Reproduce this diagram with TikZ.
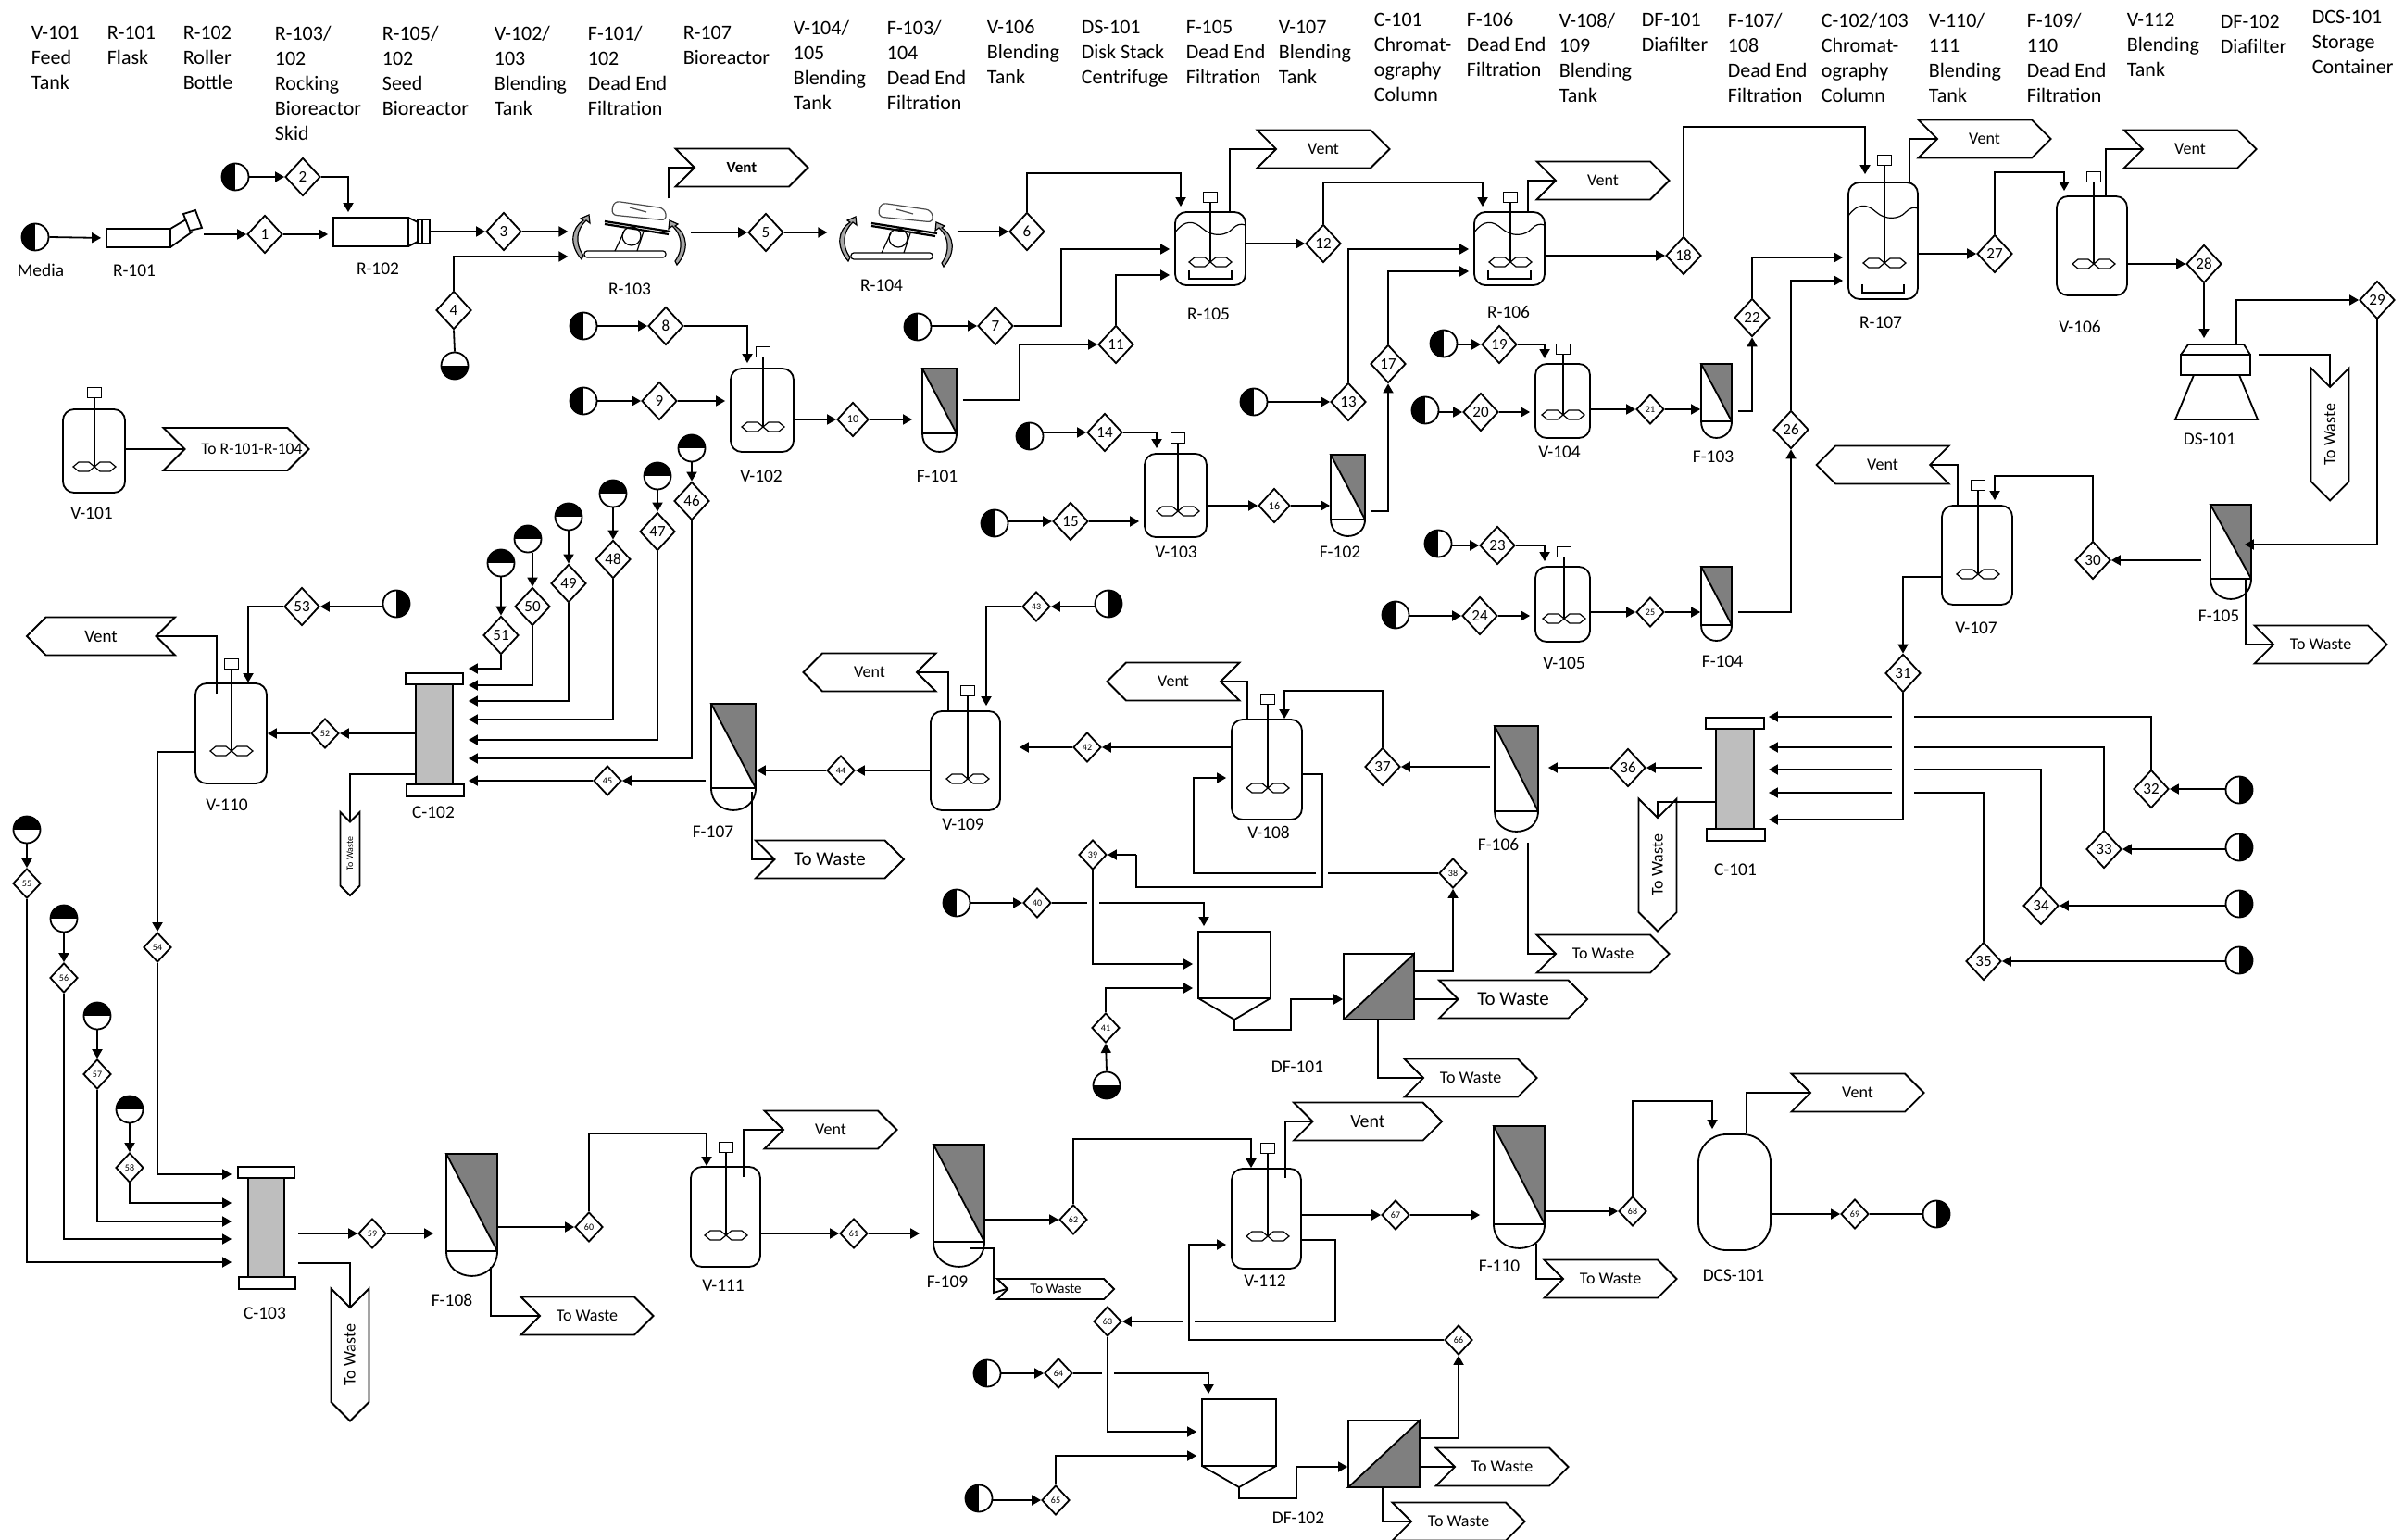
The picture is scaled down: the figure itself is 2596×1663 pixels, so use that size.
\documentclass[tikz,border=0pt]{standalone}
\usepackage{fontspec}
\setmainfont{Carlito}
\usetikzlibrary{arrows.meta, shapes.geometric, shapes.symbols, fit}
\definecolor{cgrey}{HTML}{7F7F7F}
\definecolor{cresin}{HTML}{BEBEBE}
\tikzset{
  flow/.style={-{Triangle[length=5pt,width=5.5pt]}, draw=black},
  flowg/.style={flow, shorten >=2.5pt},
  pipe/.style={draw=black},
  vessel/.style={draw, rectangle, rounded corners=6pt, inner sep=0pt},
  plainbox/.style={draw, rectangle, inner sep=0pt},
  ghost/.style={rectangle, inner sep=0pt},
  motor/.style={draw, rectangle, inner sep=0pt, minimum width=7.5pt, minimum height=5.5pt, line width=.6pt},
  stream/.style={draw, diamond, inner sep=0pt, minimum width=19pt, minimum height=20.5pt, font=\fontsize{8.5}{9}\selectfont},
  midstream/.style={stream, minimum width=17pt, minimum height=18.5pt, font=\fontsize{6}{6}\selectfont},
  smallstream/.style={stream, minimum width=15pt, minimum height=16pt, font=\fontsize{5}{5}\selectfont},
  srcL/.style={circle, draw, minimum size=14.5pt, inner sep=0pt, path picture={\fill (path picture bounding box.north west) rectangle (path picture bounding box.south);}},
  srcR/.style={circle, draw, minimum size=14.5pt, inner sep=0pt, path picture={\fill (path picture bounding box.north) rectangle (path picture bounding box.south east);}},
  srcT/.style={circle, draw, minimum size=14.5pt, inner sep=0pt, path picture={\fill (path picture bounding box.north west) rectangle (path picture bounding box.east);}},
  srcB/.style={circle, draw, minimum size=14.5pt, inner sep=0pt, path picture={\fill (path picture bounding box.west) rectangle (path picture bounding box.south east);}},
  tag/.style={signal, draw, signal to=east, signal from=west, signal pointer angle=90, inner sep=0pt, minimum width=71.5pt, minimum height=20.5pt, font=\fontsize{9}{10}\selectfont},
  ltag/.style={tag, signal to=west, signal from=east},
  vtag/.style={ltag, rotate=90},
  eqlabel/.style={inner sep=0pt, font=\fontsize{9.7}{11}\selectfont},
  heading/.style={anchor=north west, align=left, inner sep=0pt, font=\fontsize{11}{13.5}\selectfont},
}
% name, left, top, right, bottom, shaft x, motor y, impeller y
\newcommand{\blendtank}[8]{%
  \node[vessel, fit={(#2,#3) (#4,#5)}] (#1) {};
  \node[motor] (#1m) at (#6,#7) {};
  \draw[line width=.6pt] (#1m.south) -- (#6,#8);
  \foreach \d in {-1,1}
    \draw[line width=.6pt] (#6,#8) -- ++(\d*6,-5) -- ++(\d*11,0) -- ++(\d*6,5) -- ++(\d*-6,5) -- ++(\d*-11,0) -- cycle;
}
% the same, with the liquid level and the sparger
\newcommand{\bioreactor}[9]{%
  \blendtank{#1}{#2}{#3}{#4}{#5}{#6}{#7}{#8}
  \draw[line width=.6pt] (#2,#9+4) .. controls (#2+10,#9-10) and (#2+20,#9-9) .. (#2+30,#9) .. controls (#2+40,#9+9) and (#2+55,#9+8) .. (#2+62,#9) .. controls (#2+66,#9-4) and (#2+70,#9-6) .. (#4,#9-4);
  \draw[line width=.6pt] (#2+15,#5-16) -- (#2+15,#5-7) -- (#4-15,#5-7) -- (#4-15,#5-16);
}
% name, left, top, right, bottom, dome bottom
\newcommand{\deadend}[6]{%
  \node[plainbox, fit={(#2,#3) (#4,#5)}] (#1) {};
  \draw[fill=cgrey] (#2,#3) -- (#4,#3) -- (#4,#5) -- cycle;
  \draw (#2,#5) .. controls (#2,#5+1.33*#6-1.33*#5) and (#4,#5+1.33*#6-1.33*#5) .. (#4,#5);
}
% name, left, top, right, bottom
\newcommand{\chromcolumn}[5]{%
  \node[plainbox, fill=cresin, fit={(#2,#3) (#4,#5)}] (#1) {};
  \node[plainbox, fill=white, fit={(#2-11,#3-12) (#4+11,#3)}] (#1top) {};
  \node[plainbox, fill=white, fit={(#2-10,#5) (#4+12,#5+13)}] (#1bot) {};
}
% name, left, top, right, bottom, tip
\newcommand{\hopper}[6]{%
  \node[plainbox, fit={(#2,#3) (#4,#5)}] (#1) {};
  \draw (#2,#5) -- (#2/2+#4/2,#6) coordinate (#1tip) -- (#4,#5);
}
% name, left, top, right, bottom
\newcommand{\diafilter}[5]{%
  \node[plainbox, fit={(#2,#3) (#4,#5)}] (#1) {};
  \draw[fill=cgrey] (#2,#5) -- (#4,#3) -- (#4,#5) -- cycle;
}
% name, shift
\newcommand{\rocker}[2]{%
  \begin{scope}[shift={(#2)}, line width=.6pt]
    \node[ghost, fit={(614,215) (745,285)}] (#1) {};
    \draw[rounded corners=1.5pt] (631,271) rectangle (719,278);
    \draw (664,271) -- (674,250) (688,271) -- (695,250);
    \draw (682,255) circle[radius=5pt];
    \draw[line width=1.1pt] (653,239) -- (724,250) (653,242) -- (722,253);
    \draw[rounded corners=3pt, draw=black!70] (660,232) -- (663,217) -- (718,225) -- (720,238) -- cycle;
    \draw[draw=black!70] (680,224) -- (698,229);
    \draw[fill=black!35] (630,276) .. controls (620,262) and (623,247) .. (633,238) -- (637,241) -- (636,232) -- (627,236) -- (630,238) .. controls (617,246) and (614,264) .. (628,280) -- cycle;
    \draw[fill=black!35] (729,282) .. controls (739,268) and (736,253) .. (726,244) -- (722,247) -- (723,238) -- (732,242) -- (729,244) .. controls (742,252) and (745,270) .. (731,286) -- cycle;
  \end{scope}
}

\begin{document}
\begin{tikzpicture}[x=.5pt, y=-.5pt, line width=.9pt]
  \useasboundingbox (0,0) rectangle (2596,1663);

  % header
  \foreach \x/\y/\t [count=\i] in {33/36/{V-101\\Feed\\Tank}, 115/36/{R-101\\Flask}, 197/36/{R-102\\Roller\\Bottle},
      296/36/{R-103/\\102\\Rocking\\Bioreactor\\Skid}, 412/36/{R-105/\\102\\Seed\\Bioreactor}, 533/36/{V-102/\\103\\Blending\\Tank},
      634/36/{F-101/\\102\\Dead End\\Filtration}, 737/36/{R-107\\Bioreactor}, 856/30/{V-104/\\105\\Blending\\Tank},
      957/30/{F-103/\\104\\Dead End\\Filtration}, 1065/30/{V-106\\Blending\\Tank}, 1167/30/{DS-101\\Disk Stack\\Centrifuge},
      1280/30/{F-105\\Dead End\\Filtration}, 1380/30/{V-107\\Blending\\Tank}, 1483/22/{C-101\\Chromat-\\ography\\Column},
      1583/22/{F-106\\Dead End\\Filtration}, 1683/22/{V-108/\\109\\Blending\\Tank}, 1772/22/{DF-101\\Diafilter},
      1865/22/{F-107/\\108\\Dead End\\Filtration}, 1966/22/{C-102/103\\Chromat-\\ography\\Column}, 2082/22/{V-110/\\111\\Blending\\Tank},
      2188/22/{F-109/\\110\\Dead End\\Filtration}, 2296/22/{V-112\\Blending\\Tank}, 2397/24/{DF-102\\Diafilter},
      2496/19/{DCS-101\\Storage\\Container}}
    \node[heading] (head\i) at (\x,\y-9) {\t};

  % equipment
  \node[plainbox, fit={(115,247) (184,267)}] (r101) {};
  \draw (184,247) -- (201,237) (184,267) -- (208,250);
  \draw (198,231) -- (211,227) -- (218,246) -- (205,249) -- cycle;
  \coordinate (r101out) at (220,253);
  \node[plainbox, fit={(360,235) (441,266)}] (r102) {};
  \node[plainbox, fit={(451,237) (464,263)}] (r102cap) {};
  \draw (441,235) -- (451,240) (441,266) -- (451,261) (456,237) -- (456,263);
  \rocker{r103}{0,0}
  \rocker{r104}{288,2}
  \blendtank{v101}{68}{442}{135}{532}{102}{424}{504}
  \blendtank{v102}{789}{398}{857}{488}{824}{380}{461}
  \blendtank{v103}{1236}{490}{1303}{580}{1272}{473}{552}
  \blendtank{v104}{1658}{393}{1717}{473}{1688}{377}{448}
  \blendtank{v105}{1658}{612}{1717}{693}{1689}{596}{668}
  \blendtank{v106}{2221}{212}{2297}{319}{2261}{191}{285}
  \blendtank{v107}{2097}{546}{2173}{653}{2136}{524}{620}
  \blendtank{v108}{1330}{777}{1406}{885}{1369}{755}{851}
  \blendtank{v109}{1005}{768}{1080}{875}{1045}{746}{841}
  \blendtank{v110}{211}{738}{288}{846}{250}{717}{811}
  \blendtank{v111}{746}{1260}{821}{1368}{784}{1239}{1334}
  \blendtank{v112}{1330}{1262}{1405}{1370}{1369}{1240}{1335}
  \bioreactor{r105}{1269}{229}{1345}{308}{1307}{213}{283}{247}
  \bioreactor{r106}{1592}{229}{1668}{308}{1631}{213}{283}{247}
  \bioreactor{r107}{1996}{197}{2071}{323}{2035}{173}{284}{229}
  \deadend{f101}{996}{398}{1033}{468}{488}
  \deadend{f102}{1437}{491}{1474}{561}{579}
  \deadend{f103}{1837}{393}{1870}{455}{473}
  \deadend{f104}{1837}{612}{1870}{675}{692}
  \deadend{f105}{2387}{545}{2431}{625}{647}
  \deadend{f106}{1614}{784}{1661}{876}{898}
  \deadend{f107}{768}{760}{816}{851}{875}
  \deadend{f108}{482}{1246}{537}{1351}{1378}
  \deadend{f109}{1008}{1236}{1063}{1341}{1368}
  \deadend{f110}{1613}{1216}{1668}{1322}{1348}
  \chromcolumn{c101}{1853}{787}{1894}{895}
  \chromcolumn{c102}{449}{739}{489}{847}
  \chromcolumn{c103}{268}{1272}{307}{1379}
  \hopper{hop101}{1294}{1006}{1372}{1078}{1101}
  \hopper{hop102}{1298}{1511}{1378}{1583}{1606}
  \diafilter{df101}{1451}{1030}{1527}{1101}
  \diafilter{df102}{1456}{1534}{1533}{1606}
  \node[ghost, fit={(2349,372) (2438,453)}] (ds101) {};
  \draw (2355,383) -- (2363,372) -- (2423,372) -- (2430,383);
  \draw (2355,383) rectangle (2430,405);
  \draw (2369,405) -- (2349,453) -- (2438,453) -- (2418,405);
  \node[vessel, rounded corners=15pt, fit={(1834,1225) (1912,1350)}] (dcs101) {};

  % streams
  \foreach \n/\x/\y in {1/286/253, 2/327/191, 3/544/250, 4/490/335, 5/827/251, 6/1109/250, 7/1075/352, 8/719/352, 9/712/433,
      11/1205/372, 12/1429/263, 13/1456/434, 14/1193/467, 15/1156/563, 17/1499/393, 18/1818/276, 19/1619/372, 20/1599/445,
      22/1892/343, 23/1617/589, 24/1598/665, 26/1934/464, 27/2154/274, 28/2380/285, 29/2567/324, 30/2260/605, 31/2055/727,
      32/2323/852, 33/2272/917, 34/2204/978, 35/2142/1038, 36/1758/829, 37/1493/828, 46/747/541, 47/710/574, 48/662/604,
      49/614/630, 50/575/655, 51/541/686, 53/326/655}
    \node[stream] (s\n) at (\x,\y) {\n};
  \foreach \n/\x/\y in {10/921/453, 16/1376/546}
    \node[midstream] (s\n) at (\x,\y) {\n};
  \foreach \n/\x/\y in {21/1782/442, 25/1782/661, 38/1569/943, 39/1180/923, 40/1120/975, 41/1194/1110, 42/1174/807, 43/1119/655,
      44/908/832, 45/656/843, 52/351/792, 54/170/1023, 55/29/954, 56/69/1056, 57/105/1160, 58/140/1261, 59/402/1332, 60/636/1325,
      61/922/1332, 62/1159/1317, 63/1196/1427, 64/1143/1483, 65/1140/1620, 66/1575/1447, 67/1507/1312, 68/1763/1308, 69/2003/1311}
    \node[smallstream] (s\n) at (\x,\y) {\n};

  % feeds
  \node[srcL] (fM) at (38,256) {};
  \foreach \n/\x/\y in {2/254/191, 7/991/353, 8/630/352, 9/630/433, 13/1354/434, 14/1112/471, 15/1074/565, 19/1559/371,
      20/1539/443, 23/1553/587, 24/1507/664, 40/1033/975, 64/1066/1483, 65/1057/1618} {
    \node[srcL] (f\n) at (\x,\y) {};
    \draw[flow] (f\n.east |- s\n) -- (s\n.west);
  }
  \foreach \n/\x/\y in {32/2418/853, 33/2418/915, 34/2418/976, 35/2418/1037, 43/1197/652, 53/428/652} {
    \node[srcR] (f\n) at (\x,\y) {};
    \draw[flow] (f\n.west |- s\n) -- (s\n.east);
  }
  \foreach \n/\x/\y in {46/747/484, 47/710/514, 48/662/533, 49/614/558, 50/570/582, 51/541/608, 55/29/896, 56/69/992, 57/105/1097, 58/140/1198} {
    \node[srcT] (f\n) at (\x,\y) {};
    \draw[flow] (s\n |- f\n.south) -- (s\n.north);
  }
  \node[srcB] (f4) at (491,395) {};
  \node[srcB] (f41) at (1195,1172) {};
  \node[srcR] (f69) at (2091,1311) {};
  \draw[pipe] (f4.north) -- (s4.south);
  \draw[flow] (f41.north) -- (s41.south);

  % vents and waste
  \node[tag, font=\fontsize{8.5}{10}\selectfont\bfseries] (ventR103) at (801,181) {Vent};
  \node[tag] (ventR105) at (1429,161) {Vent};
  \node[tag] (ventR106) at (1731,195) {Vent};
  \node[tag] (ventR107) at (2143,150) {Vent};
  \node[tag] (ventV106) at (2365,161) {Vent};
  \node[ltag] (ventV107) at (2033,502) {Vent};
  \node[ltag] (ventV108) at (1267,736) {Vent};
  \node[ltag] (ventV109) at (939,726) {Vent};
  \node[ltag, minimum width=80pt, font=\fontsize{9.5}{10}\selectfont] (ventV110) at (109,687) {Vent};
  \node[tag] (ventV111) at (897,1220) {Vent};
  \node[tag, minimum width=80pt, font=\fontsize{10}{10}\selectfont] (ventV112) at (1477,1211) {Vent};
  \node[tag] (ventDCS) at (2006,1180) {Vent};
  \node[tag, minimum width=78.5pt, minimum height=23pt, font=\fontsize{8.8}{10}\selectfont] (toSeed) at (255,485) {\makebox[40pt]{\hspace{17pt}To R-101-R-104}};
  \node[vtag] (wasteDS) at (2516,469) {To Waste};
  \node[vtag] (wasteC101) at (1790,934) {To Waste};
  \node[vtag, minimum width=45pt, minimum height=10.5pt, font=\fontsize{5}{5}\selectfont] (wasteC102) at (378,922) {To Waste};
  \node[vtag] (wasteC103) at (378,1463) {To Waste};
  \node[tag] (wasteF105) at (2506,696) {To Waste};
  \node[tag] (wasteF106) at (1731,1030) {To Waste};
  \node[tag, minimum width=80pt, font=\fontsize{10.5}{10}\selectfont] (wasteF107) at (896,928) {To Waste};
  \node[tag] (wasteF108) at (634,1421) {To Waste};
  \node[tag, minimum width=63pt, minimum height=11pt, font=\fontsize{7.5}{8}\selectfont] (wasteF109) at (1140,1392) {To Waste};
  \node[tag] (wasteF110) at (1739,1381) {To Waste};
  \node[tag, minimum width=80pt, font=\fontsize{10.5}{10}\selectfont] (wasteDFa) at (1634,1079) {To Waste};
  \node[tag] (wasteDFb) at (1588,1164) {To Waste};
  \node[tag] (wasteDFc) at (1622,1584) {To Waste};
  \node[tag] (wasteDFd) at (1575,1643) {To Waste};

  % upper train
  \draw[flowg] (fM.east) -- (r101.west);
  \draw[flow] (r101out) -- (s1.west);
  \draw[flowg] (s1.east) -- (s1 -| r102.west);
  \draw[flowg] (s2.east) -| (r102.north -| 376,0);
  \draw[flow] (r102cap.east |- s3) -- (s3.west);
  \draw[flow] (s3.east) -- (s3 -| r103.west);
  \draw[flow] (s4.north) |- (r103.west |- 0,277);
  \draw[pipe] (r103.north -| 722,0) |- (ventR103.west);
  \draw[flow] (r103.east |- s5) -- (s5.west);
  \draw[flow, shorten >=4pt] (s5.east) -- (s5 -| r104.west);
  \draw[flow] (r104.east |- s6) -- (s6.west);
  \draw[flowg] (s6.north) |- (1275,187) -- (r105.north -| 1275,0);
  \draw[pipe] (r105.north -| 1328,0) |- (ventR105.west);
  \draw[flow] (r105.east |- s12) -- (s12.west);
  \draw[flowg] (s12.north) |- (1601,197) -- (r106.north -| 1601,0);
  \draw[pipe] (r106.north -| 1650,0) |- (ventR106.west);
  \draw[flowg] (s7.east) -| (1146,269) -- (r105.west |- 0,269);
  \draw[flowg] (s8.east) -| (v102.north -| 807,0);
  \draw[flowg] (s9.east) -- (s9 -| v102.west);
  \draw[flow] (v102.east |- s10) -- (s10.west);
  \draw[flow, shorten >=5pt] (s10.east) -- (s10 -| f101.west);
  \draw[flow] ([xshift=3pt]f101.east |- 0,432) -| (1101,372) -- (s11.west);
  \draw[flowg] (s11.north) |- (r105.west |- 0,297);
  \draw[pipe] (v101.east |- toSeed) -- (toSeed.west);
  \draw[flowg] (s13.north) |- (r106.west |- 0,269);
  \draw[flowg] (s17.north) |- (r106.west |- 0,293);
  \draw[flowg] (s14.east) -| (v103.north -| 1249,0);
  \draw[flowg] (s15.east) -- (s15 -| v103.west);
  \draw[flow] (v103.east |- s16) -- (s16.west);
  \draw[flow] (s16.east) -- (s16 -| f102.west);
  \draw[flow] ([xshift=3pt]f102.east |- 0,552) -| (s17.south);
  \draw[flow] (r106.east |- s18) -- (s18.west);
  \draw[flow, shorten >=4pt] (s18.north) |- (2014,137) -- (r107.north -| 2014,0);
  \draw[flowg] (s19.east) -| (v104.north -| 1668,0);
  \draw[flowg] (s20.east) -- (s20 -| v104.west);
  \draw[flow] (v104.east |- s21) -- (s21.west);
  \draw[flow] (s21.east) -- (s21 -| f103.west);
  \draw[flow] ([xshift=3pt]f103.east |- 0,444) -| (s22.south);
  \draw[flowg] (s22.north) |- (r107.west |- 0,278);
  \draw[flowg] (s26.north) |- (r107.west |- 0,303);
  \draw[flowg] (s23.east) -| (v105.north -| 1668,0);
  \draw[flowg] (s24.east) -- (s24 -| v105.west);
  \draw[flow] (v105.east |- s25) -- (s25.west);
  \draw[flow] (s25.east) -- (s25 -| f104.west);
  \draw[flow] ([xshift=3pt]f104.east |- s25) -| (s26.south);
  \draw[flow] (r107.east |- s27) -- (s27.west);
  \draw[pipe] (r107.north -| 2062,0) |- (ventR107.west);
  \draw[flowg] (s27.north) |- (2229,186) -- (v106.north -| 2229,0);
  \draw[pipe] (v106.north -| 2274,0) |- (ventV106.west);
  \draw[flow] (v106.east |- s28) -- (s28.west);
  \draw[flow, shorten >=3pt] (s28.south) -- (s28 |- ds101.north);
  \draw[flow] (ds101.north -| 2415,0) |- (s29.west);
  \draw[pipe] (ds101.east |- 0,383) -| (wasteDS.east);
  \draw[flow, shorten >=-4pt] (s29.south) |- (f105.east |- 0,588);
  \draw[flow] ([xshift=-4.5pt]f105.west |- s30) -- (s30.east);
  \draw[flowg] (s30.north) |- (2154,514) -- (v107.north -| 2154,0);
  \draw[pipe] (v107.north -| 2114,0) |- (ventV107.east);
  \draw[pipe] (f105.south -| 2425,0) |- (wasteF105.west);
  \draw[flow] (v107.west |- 0,623) -| (s31.north);

  % first capture train
  \draw[flow] (s31.south) |- ([xshift=7.5pt]c101.east |- 0,885);
  \foreach \n/\y in {32/774, 33/807, 34/831, 35/856} {
    \draw[pipe] (s\n.north) |- ([xshift=6pt]s31.south |- 0,\y);
    \draw[flow] ([xshift=-6pt]s31.south |- 0,\y) -- ([xshift=7.5pt]c101.east |- 0,\y);
  }
  \draw[flow] ([xshift=-7pt]c101.west |- s36) -- (s36.east);
  \draw[flow, shorten >=5pt] (s36.west) -- (s36 -| f106.east);
  \draw[pipe] (c101.west |- 0,866) -| (wasteC101.east);
  \draw[pipe] ([yshift=-16.5pt]f106.south -| 1650,0) |- (wasteF106.west);
  \draw[flow] ([xshift=-2pt]f106.west |- s37) -- (s37.east);
  \draw[flow] (s37.north) |- (1387,746) -- (v108.north -| 1387,0);
  \draw[pipe] (v108.north -| 1347,0) |- (ventV108.east);
  \draw[flow] (v108.west |- s42) -- (s42.east);
  \draw[flow, shorten >=10pt] (s42.west) -- (s42 -| v109.east);
  \draw[pipe] (v108.east |- 0,836) -| (1428,958) -| (1227,923);
  \draw[flow] (1227,923) -- (s39.east);
  \draw[pipe] (s38.west) -- (1434,943);
  \draw[flowg] (1421,943) -| (1289,840) -- (v108.west |- 0,840);
  \draw[flow] (df101.east |- 0,1049) -| (s38.south);
  \draw[flowg] (s39.south) |- (hop101.west |- 0,1041);
  \draw[pipe] (s40.east) -- (1174,975);
  \draw[flowg] (1187,975) -| (hop101.north -| 1300,0);
  \draw[flowg] (s41.north) |- (hop101.west |- 0,1067);
  \draw[flow] (hop101tip) |- (1394,1112) |- (df101.west |- 0,1079);
  \draw[pipe] (df101.east |- wasteDFa) -- (wasteDFa.west);
  \draw[pipe] (df101.south -| 1488,0) |- (wasteDFb.west);

  % second capture train
  \draw[flow] (v109.west |- s44) -- (s44.east);
  \draw[flow] (s44.west) -- (s44 -| f107.east);
  \draw[pipe] (v109.north -| 1024,0) |- (ventV109.east);
  \draw[flowg] (s43.west) -| (v109.north -| 1065,0);
  \draw[flow] ([xshift=-2.5pt]f107.west |- s45) -- (s45.east);
  \draw[flow] (s45.west) -- ([xshift=8pt]c102.east |- s45);
  \draw[pipe] ([yshift=-1.5pt]f107.south -| 812,0) |- (wasteF107.west);
  \foreach \n/\y in {46/819, 47/799, 48/777, 49/757, 50/740, 51/722}
    \draw[flow] (s\n.south) |- ([xshift=8pt]c102.east |- 0,\y);
  \draw[flow] (c102.west |- s52) -- (s52.east);
  \draw[flow] (s52.west) -- (s52 -| v110.east);
  \draw[pipe] (c102.west |- 0,836) -| (wasteC102.east);
  \draw[flow] (s53.west) -| (v110.north -| 268,0);
  \draw[pipe] ([yshift=-6pt]v110.north -| 234,0) |- (ventV110.east);
  \draw[flow] (v110.west |- 0,812) -| (s54.north);
  \foreach \n/\y in {54/1268, 55/1363, 56/1338, 57/1319, 58/1299}
    \draw[flow] (s\n.south) |- ([xshift=-8.5pt]c103.west |- 0,\y);
  \draw[flow] ([xshift=7pt]c103.east |- s59) -- (s59.west);
  \draw[flow, shorten >=6.5pt] (s59.east) -- (s59 -| f108.west);
  \draw[pipe] ([xshift=7pt]c103.east |- 0,1364) -| (wasteC103.east);
  \draw[flow] (f108.east |- s60) -- (s60.west);
  \draw[pipe] ([yshift=-8pt]f108.south -| 530,0) |- (wasteF108.west);
  \draw[flow] (s60.north) |- (763,1224) -- (v111.north -| 763,0);
  \draw[pipe] ([yshift=-6pt]v111.north -| 803,0) |- (ventV111.west);
  \draw[flow] (v111.east |- s61) -- (s61.west);
  \draw[flow, shorten >=7pt] (s61.east) -- (s61 -| f109.west);
  \draw[flow] (f109.east |- s62) -- (s62.west);
  \draw[pipe] ([yshift=-3pt]f109.south -| 1047,0) -| (1073,1396) -- (wasteF109.west);
  \draw[flow] (s62.north) |- (1351,1230) -- (v112.north -| 1351,0);
  \draw[pipe] ([yshift=-5.5pt]v112.north -| 1388,0) |- (ventV112.west);
  \draw[flow] (v112.east |- s67) -- (s67.west);
  \draw[flow, shorten >=7pt] (s67.east) -- (s67 -| f110.west);
  \draw[pipe] (v112.east |- 0,1339) -| (1442,1427) -- (1290,1427);
  \draw[flow] (1277,1427) -- (s63.east);
  \draw[flowg] (s66.west) -| (1284,1344) -- (v112.west |- 0,1344);
  \draw[flow] (df102.east |- 0,1553) -| (s66.south);
  \draw[flowg] (s63.south) |- (hop102.west |- 0,1546);
  \draw[pipe] (s64.east) -- (1190,1483);
  \draw[flowg] (1203,1483) -| (hop102.north -| 1305,0);
  \draw[flowg] (s65.north) |- (hop102.west |- 0,1572);
  \draw[flow] (hop102tip) |- (1400,1618) |- (df102.west |- 0,1584);
  \draw[pipe] (df102.east |- wasteDFc) -- (wasteDFc.west);
  \draw[pipe] (df102.south -| 1493,0) |- (wasteDFd.west);
  \draw[flow] (f110.east |- s68) -- (s68.west);
  \draw[pipe] ([yshift=-10pt]f110.south -| 1659,0) |- (wasteF110.west);
  \draw[flowg] (s68.north) |- (1849,1189) -- (dcs101.north -| 1849,0);
  \draw[pipe] (dcs101.north -| 1886,0) |- (ventDCS.west);
  \draw[flow] (dcs101.east |- s69) -- (s69.west);
  \draw[pipe] (s69.east) -- (f69.west);

  % equipment labels
  \foreach \x/\y/\t in {44/292/Media, 145/292/R-101, 408/290/R-102, 680/312/R-103, 952/308/R-104, 99/554/V-101, 822/514/V-102,
      1012/514/F-101, 1305/339/R-105, 1629/337/R-106, 1270/596/V-103, 1447/596/F-102, 1684/488/V-104, 1850/493/F-103,
      2031/348/R-107, 2246/353/V-106, 2386/474/DS-101, 1689/716/V-105, 1860/714/F-104, 2134/678/V-107, 2396/665/F-105,
      1874/939/C-101, 1618/912/F-106, 1370/899/V-108, 1401/1152/DF-101, 1040/890/V-109, 770/898/F-107, 468/877/C-102,
      245/869/V-110, 286/1418/C-103, 488/1404/F-108, 781/1388/V-111, 1023/1384/F-109, 1366/1383/V-112, 1619/1367/F-110,
      1872/1377/DCS-101, 1402/1639/DF-102}
    \node[eqlabel] (lab\t) at (\x,\y) {\t};
\end{tikzpicture}
\end{document}
